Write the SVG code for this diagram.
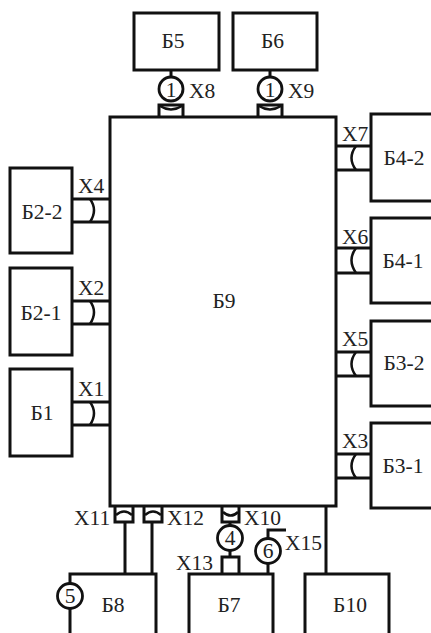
<svg xmlns="http://www.w3.org/2000/svg" width="431" height="633" viewBox="0 0 431 633">
<style>
.b{fill:#fff;stroke:#111;stroke-width:3}
.l{fill:none;stroke:#111;stroke-width:3}
.a{fill:none;stroke:#111;stroke-width:2.500}
.c{fill:#fff;stroke:#111;stroke-width:2.800}
text{font-family:"Liberation Serif","Times New Roman",serif;font-size:21.500px;fill:#222}
.m{text-anchor:middle}
</style>
<rect width="431" height="633" fill="#fff"/>
<g id="connectors">
<path class="l" d="M171 70V77M270 70V77"/>
<path class="l" d="M159 117V105H183V117M258 117V105H282V117"/>
<path class="a" d="M160 106Q171 113 182 106M259 106Q270 113 281 106"/>
<path class="l" d="M72 199H110M72 222H110M72 301H110M72 324H110M72 402H110M72 425H110"/>
<path class="a" d="M90 199Q98 210 90 222M90 301Q98 312 90 324M90 402Q98 413 90 425"/>
<path class="l" d="M336 146H371M336 170H371M336 248H371M336 273H371M336 352H371M336 376H371M336 454H371M336 478H371"/>
<path class="a" d="M356 146Q347 158 356 170M356 248Q347 260 356 273M356 352Q347 364 356 376M356 454Q347 466 356 478"/>
<path class="l" d="M115 506V522H133V506M144 506V522H162V506M222 506V522H239V506"/>
<path class="a" d="M116 515Q124 508 132 515M145 515Q153 508 161 515M223 512Q231 519 238 512"/>
<path class="l" d="M125 522V574M152 522V574M326 506V574"/>
<path class="l" d="M230 522V557M222 574V557H239V574"/>
<path class="l" d="M268 564V574M268 538V530H286"/>
</g>
<g id="B5"><rect class="b" x="134" y="13" width="85" height="57"/><text class="m" x="173" y="48">Б5</text></g>
<g id="B6"><rect class="b" x="233" y="13" width="84" height="57"/><text class="m" x="272.500" y="48">Б6</text></g>
<g id="B9"><rect class="b" x="110" y="117" width="226" height="389"/><text class="m" x="224" y="308">Б9</text></g>
<g id="B2-2"><rect class="b" x="10" y="168" width="62" height="85"/><text class="m" x="42" y="219">Б2-2</text></g>
<g id="B2-1"><rect class="b" x="10" y="268" width="62" height="87"/><text class="m" x="41" y="320">Б2-1</text></g>
<g id="B1"><rect class="b" x="10" y="369" width="62" height="87"/><text class="m" x="42" y="420">Б1</text></g>
<g id="B4-2"><rect class="b" x="371" y="114" width="70" height="87"/><text class="m" x="404" y="165">Б4-2</text></g>
<g id="B4-1"><rect class="b" x="371" y="218" width="70" height="85"/><text class="m" x="403" y="268">Б4-1</text></g>
<g id="B3-2"><rect class="b" x="371" y="321" width="70" height="85"/><text class="m" x="404" y="370">Б3-2</text></g>
<g id="B3-1"><rect class="b" x="371" y="423" width="70" height="85"/><text class="m" x="403" y="473">Б3-1</text></g>
<g id="B8"><rect class="b" x="70" y="574" width="86" height="70"/><text class="m" x="113" y="612">Б8</text></g>
<g id="B7"><rect class="b" x="189" y="574" width="84" height="70"/><text class="m" x="229" y="612">Б7</text></g>
<g id="B10"><rect class="b" x="305" y="574" width="84" height="70"/><text class="m" x="350" y="612">Б10</text></g>
<g id="C1a"><circle class="c" cx="171" cy="89" r="12"/><text class="m" x="171" y="96.500">1</text></g>
<g id="C1b"><circle class="c" cx="270" cy="89" r="12"/><text class="m" x="270" y="96.500">1</text></g>
<g id="C4"><circle class="c" cx="230" cy="538" r="12.500"/><text class="m" x="230" y="545">4</text></g>
<g id="C5"><circle class="c" cx="70" cy="596" r="12.500"/><text class="m" x="70" y="603">5</text></g>
<g id="C6"><circle class="c" cx="268" cy="551" r="12.500"/><text class="m" x="268" y="558">6</text></g>
<g id="labels">
<text x="189" y="98">Х8</text>
<text x="288" y="98">Х9</text>
<text x="78" y="193">Х4</text>
<text x="78" y="295">Х2</text>
<text x="78" y="396">Х1</text>
<text x="342" y="141">Х7</text>
<text x="342" y="244">Х6</text>
<text x="342" y="346">Х5</text>
<text x="342" y="448">Х3</text>
<text x="74" y="525">Х11</text>
<text x="167" y="525">Х12</text>
<text x="244" y="525">Х10</text>
<text x="176" y="570">Х13</text>
<text x="285" y="550">Х15</text>
</g>
</svg>
